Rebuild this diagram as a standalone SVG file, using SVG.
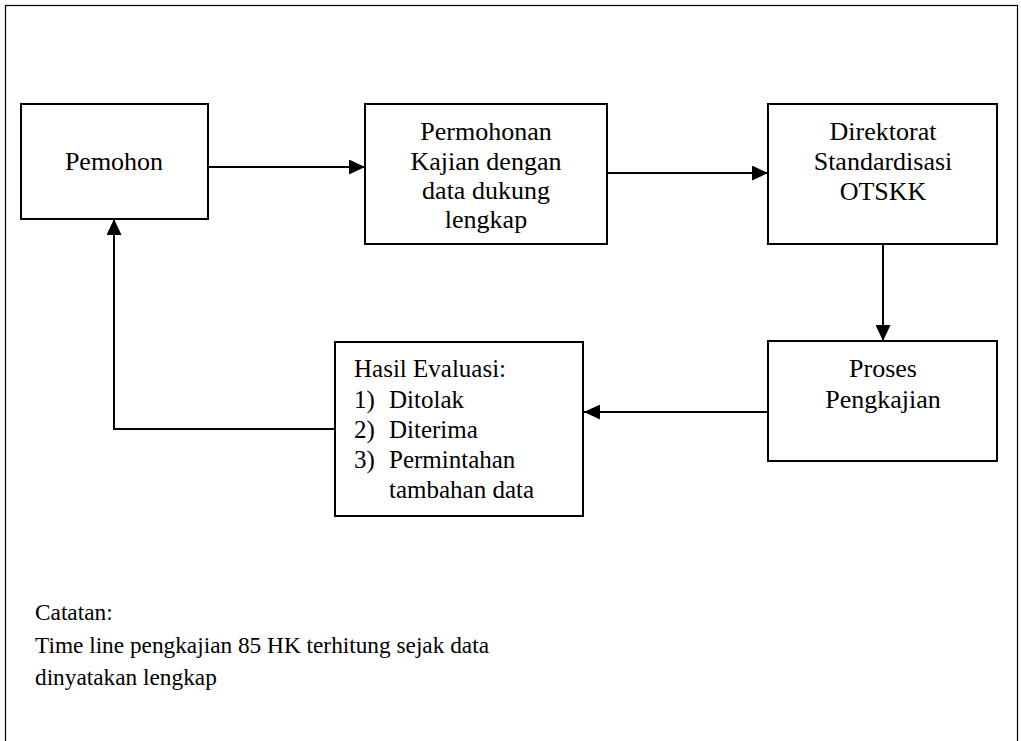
<svg xmlns="http://www.w3.org/2000/svg" width="1021" height="741" viewBox="0 0 1021 741">
<style>
.box{fill:#fff;stroke:#000;stroke-width:2}
.t{font-family:"Liberation Serif","Times New Roman",serif;fill:#000}
.c{font-size:26px;text-anchor:middle}
.h{font-size:25px}
.n{font-size:23.3px}
.ln{fill:none;stroke:#000;stroke-width:2}
</style>
<defs>
<marker id="ah" markerUnits="userSpaceOnUse" markerWidth="17" markerHeight="15" refX="16" refY="7.5" orient="auto">
<path d="M0,0 L16,7.5 L0,15 Z" fill="#000"/>
</marker>
</defs>
<rect x="0" y="0" width="1021" height="741" fill="#fff"/>
<rect x="5.5" y="5.5" width="1012" height="750" fill="none" stroke="#000" stroke-width="1.2"/>
<g id="connectors">
<line class="ln" x1="208" y1="167" x2="365" y2="167" marker-end="url(#ah)"/>
<line class="ln" x1="608" y1="173" x2="768" y2="173" marker-end="url(#ah)"/>
<line class="ln" x1="883" y1="244" x2="883" y2="341" marker-end="url(#ah)"/>
<line class="ln" x1="768" y1="412" x2="584" y2="412" marker-end="url(#ah)"/>
<polyline class="ln" points="335,429 114,429 114,219" marker-end="url(#ah)"/>
</g>
<g id="pemohon">
<rect class="box" x="21" y="104" width="187" height="115"/>
<text class="t c" x="114" y="170">Pemohon</text>
</g>
<g id="permohonan">
<rect class="box" x="365" y="104" width="242" height="140"/>
<text class="t c" x="486" y="140">Permohonan</text>
<text class="t c" x="486" y="170">Kajian dengan</text>
<text class="t c" x="486" y="199">data dukung</text>
<text class="t c" x="486" y="228">lengkap</text>
</g>
<g id="direktorat">
<rect class="box" x="768" y="104" width="229" height="140"/>
<text class="t c" x="883" y="140">Direktorat</text>
<text class="t c" x="883" y="170">Standardisasi</text>
<text class="t c" x="883" y="200">OTSKK</text>
</g>
<g id="proses">
<rect class="box" x="768" y="341" width="229" height="120"/>
<text class="t c" x="883" y="377">Proses</text>
<text class="t c" x="883" y="408">Pengkajian</text>
</g>
<g id="hasil">
<rect class="box" x="335" y="342" width="248" height="174"/>
<text class="t h" x="354" y="377">Hasil Evaluasi:</text>
<text class="t h" x="354" y="408">1)</text><text class="t h" x="389" y="408">Ditolak</text>
<text class="t h" x="354" y="438">2)</text><text class="t h" x="389" y="438">Diterima</text>
<text class="t h" x="354" y="468">3)</text><text class="t h" x="389" y="468">Permintahan</text>
<text class="t h" x="389" y="498">tambahan data</text>
</g>
<g id="catatan">
<text class="t n" x="35" y="620">Catatan:</text>
<text class="t n" x="35" y="653">Time line pengkajian 85 HK terhitung sejak data</text>
<text class="t n" x="35" y="685">dinyatakan lengkap</text>
</g>
</svg>
